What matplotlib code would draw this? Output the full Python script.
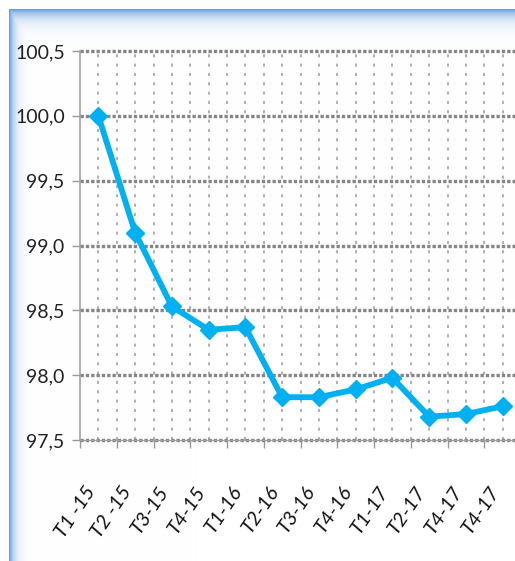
import numpy as np
import matplotlib
matplotlib.use("Agg")
import matplotlib.pyplot as plt
import matplotlib.transforms as mtransforms
from matplotlib.ticker import FixedLocator

categories = ["T1 -15", "T2 -15", "T3-15", "T4-15", "T1-16", "T2-16",
              "T3-16", "T4-16", "T1-17", "T2-17", "T4-17", "T4-17"]
values = [100.0, 99.10, 98.53, 98.35, 98.37, 97.83,
          97.83, 97.89, 97.98, 97.68, 97.70, 97.76]
y_ticks = [97.5, 98.0, 98.5, 99.0, 99.5, 100.0, 100.5]
y_ticklabels = ["97,5", "98,0", "98,5", "99,0", "99,5", "100,0", "100,5"]

FONT = ["Lato", "DejaVu Sans"]
plt.rcParams["font.family"] = FONT

W, H = 515, 561
fig = plt.figure(figsize=(W / 100, H / 100), dpi=100)

# background frame with light-blue gradient border (top and left)
bg = fig.add_axes([0, 0, 1, 1], zorder=-10)
yy, xx = np.mgrid[0:H, 0:W]
border_rgb = np.array([0.42, 0.63, 0.87])
inside = (yy >= 9) & (xx >= 9)
t_top = np.exp(-np.clip(yy - 9, 0, None) / 8.0)
t_left = np.exp(-np.clip(xx - 9, 0, None) / 5.0)
t = np.where(inside, np.maximum(t_top, t_left), 0.0)
img = np.ones((H, W, 3)) * (1 - t[..., None]) + border_rgb * t[..., None]
bg.imshow(img, extent=[0, W, H, 0], aspect="auto", interpolation="bilinear")
bg.set_axis_off()

left, right, bottom, top = 80, 521, 440, 51
ax = fig.add_axes([left / W, 1 - bottom / H, (right - left) / W, (bottom - top) / H])
ax.patch.set_alpha(0)

x = np.arange(len(categories))
ax.plot(x, values, color="#00B0F0", lw=4.2, marker="D", ms=9,
        markeredgecolor="#00B0F0", zorder=5, clip_on=False)

ax.set_xlim(-0.5, len(categories) - 0.5)
ax.set_ylim(97.5, 100.5)

ax.set_yticks(y_ticks)
ax.set_yticklabels(y_ticklabels, fontsize=14, color="#222222")
ax.set_xticks(x)
ax.set_xticklabels(categories, fontsize=14.5, style="italic", rotation=56,
                   ha="right", va="top", rotation_mode="default", color="#111111")
shift = mtransforms.ScaledTranslation(3 / 100, 0, fig.dpi_scale_trans)
for lbl in ax.get_xticklabels():
    lbl.set_transform(lbl.get_transform() + shift)
ax.xaxis.set_minor_locator(FixedLocator(np.arange(-0.5, len(categories), 1.0)))

ax.tick_params(axis="x", which="major", length=0, pad=31)
ax.tick_params(axis="x", which="minor", length=6, width=1, color="#999999", direction="out")
ax.tick_params(axis="y", length=6, width=1, color="#999999", direction="out", pad=5)

# gridlines
for yv in y_ticks:
    ax.axhline(yv, color="#858585", lw=2.4, ls=(0, (1.0, 0.6)), zorder=2, clip_on=False)
for xv in np.arange(-0.5, len(categories), 0.5)[1:]:
    ax.axvline(xv, color="#b0b0b0", lw=1.4, ls=(0, (1.6, 3.2)), zorder=1)

for s in ["top", "right"]:
    ax.spines[s].set_visible(False)
ax.spines["left"].set_color("#a0a0a0")
ax.spines["bottom"].set_color("#a0a0a0")
ax.spines["left"].set_linewidth(1.2)

fig.savefig("out.png", dpi=100)
